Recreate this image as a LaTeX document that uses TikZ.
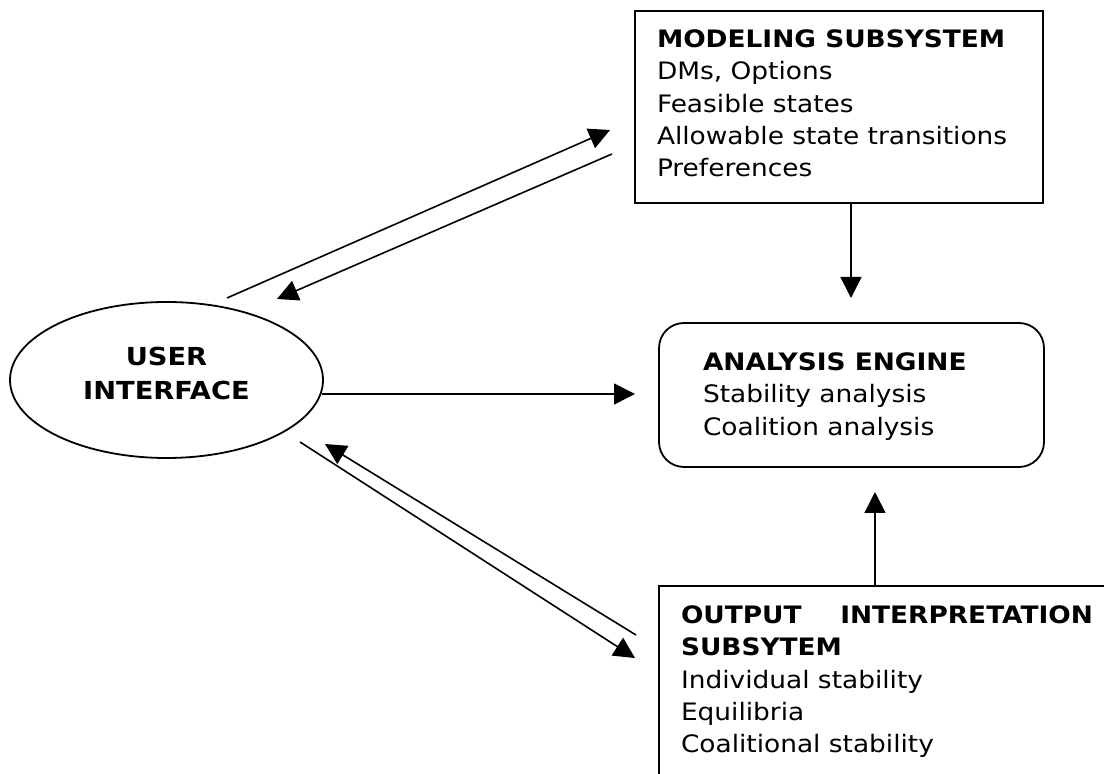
\documentclass[tikz,border=0pt]{standalone}
\usepackage{fontspec}
\setmainfont{DejaVu Sans}[FakeStretch=1.1]
\usetikzlibrary{shapes.geometric,arrows.meta}
\begin{document}
\begin{tikzpicture}[x=0.5pt,y=-0.5pt,
  every node/.style={inner sep=0pt, outer sep=0pt},
  txt/.style={font=\fontsize{12}{16.2}\selectfont, align=left, anchor=north west},
  uitxt/.style={font=\fontsize{12.4}{17}\selectfont\bfseries, align=center, anchor=north},
  frame/.style={draw, line width=0.9pt, rectangle},
  rframe/.style={draw, line width=0.9pt, rectangle, rounded corners=12.5pt},
  oval/.style={draw, line width=0.9pt, ellipse},
  conn/.style={line width=0.8pt, -{Triangle[length=10.5pt,width=10.5pt]}}]
\useasboundingbox (0,0) rectangle (1104,774);
\clip (0,0) rectangle (1104,774);
% boxes
\node[frame, anchor=north west, minimum width=204pt, minimum height=96pt] (mod) at (635,11) {};
\node[rframe, anchor=north west, minimum width=192.5pt, minimum height=72pt] (ana) at (659,323) {};
\node[frame, anchor=north west, minimum width=240pt, minimum height=110pt] (out) at (659,586) {};
\node[oval, minimum width=156.5pt, minimum height=78pt] (ui) at (166.5,380) {};
% texts
\node[txt] (modtxt) at (657,29.5) {\textbf{MODELING SUBSYSTEM}\\DMs, Options\\Feasible states\\Allowable state transitions\\Preferences};
\node[txt] (anatxt) at (703,352.5) {\textbf{ANALYSIS ENGINE}\\Stability analysis\\Coalition analysis};
\node[txt] (outtxt) at (681,605.5) {\textbf{\makebox[206pt][l]{OUTPUT\hfill INTERPRETATION}}\\\textbf{SUBSYTEM}\\Individual stability\\Equilibria\\Coalitional stability};
\node[uitxt] (uitext) at (166.5,347.5) {USER\\INTERFACE};
% connector end points
\coordinate (u1) at (227,298);  \coordinate (m1) at (610,130);
\coordinate (m2) at (612,154);  \coordinate (u2) at (277,299);
\coordinate (u3) at (322,394);  \coordinate (a3) at (635,394);
\coordinate (u4) at (300,442);  \coordinate (o4) at (635,658);
\coordinate (o5) at (636,635);  \coordinate (u5) at (325,444);
\coordinate (a6) at (851,298);
\coordinate (a7) at (875,492);
% connectors
\draw[conn] (u1) -- (m1);
\draw[conn] (m2) -- (u2);
\draw[conn] (u3) -- (a3);
\draw[conn] (u4) -- (o4);
\draw[conn] (o5) -- (u5);
\draw[conn] (mod.south -| a6) -- (a6);
\draw[conn] (out.north -| a7) -- (a7);
\end{tikzpicture}
\end{document}
